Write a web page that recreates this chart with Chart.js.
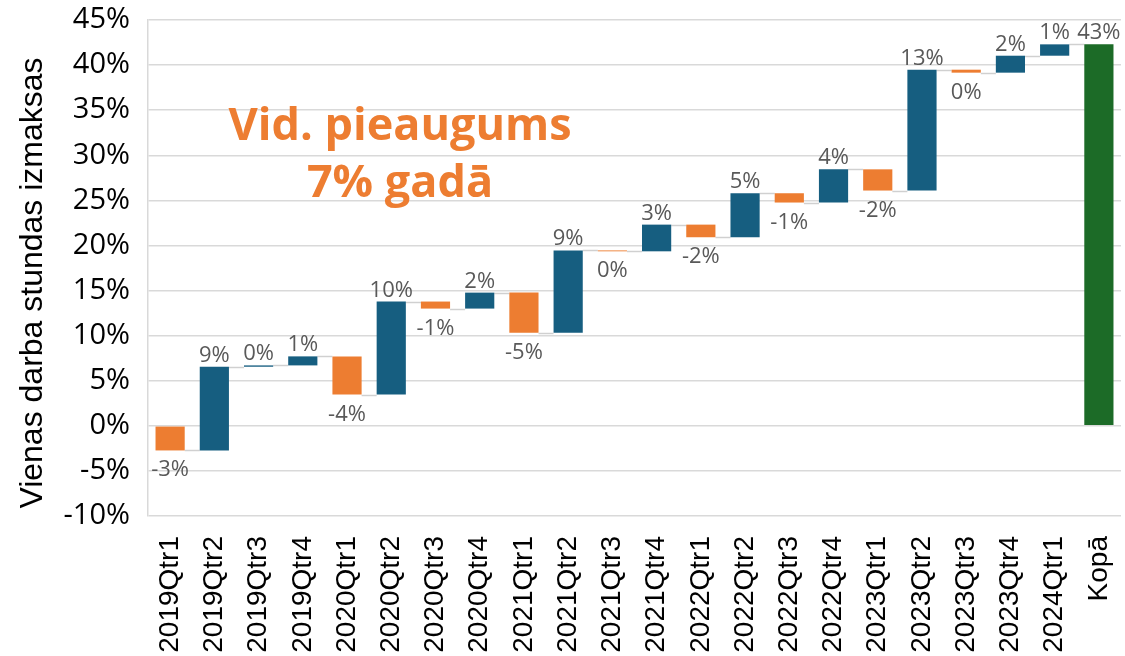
<!DOCTYPE html>
<html>
<head>
<meta charset="utf-8">
<script src="https://cdn.jsdelivr.net/npm/chart.js@4.4.1/dist/chart.umd.min.js"></script>
<style>
  html, body { margin: 0; padding: 0; background: #ffffff; }
  #wrap { width: 1125px; height: 656px; position: relative; }
</style>
</head>
<body>
<div id="wrap"><canvas id="c" width="1125" height="656"></canvas></div>
<script>
// ---- Data ----
const categories = ['2019Qtr1','2019Qtr2','2019Qtr3','2019Qtr4','2020Qtr1','2020Qtr2','2020Qtr3','2020Qtr4',
  '2021Qtr1','2021Qtr2','2021Qtr3','2021Qtr4','2022Qtr1','2022Qtr2','2022Qtr3','2022Qtr4',
  '2023Qtr1','2023Qtr2','2023Qtr3','2023Qtr4','2024Qtr1','Kopā'];
// quarterly changes of the cumulative index (percentage points)
const changes = [-2.73, 9.28, 0.15, 1.0, -4.24, 10.32, -0.78, 1.77, -4.46, 9.14, -0.1, 2.96,
  -1.4, 4.88, -1.03, 3.68, -2.35, 13.4, -0.33, 1.88, 1.26];
// data labels printed on the bars (%)
const barLabels = [-3, 9, 0, 1, -4, 10, -1, 2, -5, 9, 0, 3, -2, 5, -1, 4, -2, 13, 0, 2, 1, 43];
const yTicks = { min: -10, max: 45, step: 5 };
const annotationLines = ['Vid. pieaugums', '7% gadā'];
const yTitle = 'Vienas darba stundas izmaksas';

// ---- Build floating bars ----
const COL_UP = '#165E80', COL_DOWN = '#ED7D31', COL_TOTAL = '#1C6B27';
const ranges = [], colors = [], levels = [];
let run = 0;
changes.forEach(c => { const s = run; run = +(run + c).toFixed(4); ranges.push([s, run]); levels.push(run); colors.push(c >= 0 ? COL_UP : COL_DOWN); });
ranges.push([0, run]); levels.push(run); colors.push(COL_TOTAL);
const isUp = ranges.map((r, i) => i === ranges.length - 1 ? true : changes[i] >= 0);

const overlay = {
  id: 'overlay',
  beforeDatasetsDraw(chart) {
    const ctx = chart.ctx, meta = chart.getDatasetMeta(0), y = chart.scales.y;
    ctx.save();
    ctx.strokeStyle = '#D0D0D0'; ctx.lineWidth = 1.5;
    for (let i = 0; i < meta.data.length - 1; i++) {
      const a = meta.data[i], b = meta.data[i + 1];
      const yy = Math.round(y.getPixelForValue(levels[i])) + 0.5;
      ctx.beginPath(); ctx.moveTo(a.x + a.width / 2, yy); ctx.lineTo(b.x - b.width / 2, yy); ctx.stroke();
    }
    ctx.restore();
  },
  afterDatasetsDraw(chart) {
    const ctx = chart.ctx, meta = chart.getDatasetMeta(0), y = chart.scales.y;
    ctx.save();
    ctx.font = '22px "Open Sans"'; ctx.fillStyle = '#595959'; ctx.textAlign = 'center'; ctx.textBaseline = 'alphabetic';
    meta.data.forEach((bar, i) => {
      const r = ranges[i];
      const txt = barLabels[i] + '%';
      if (isUp[i]) {
        const top = y.getPixelForValue(Math.max(r[0], r[1]));
        ctx.fillText(txt, bar.x, top - 5);
      } else {
        const bot = y.getPixelForValue(Math.min(r[0], r[1]));
        ctx.fillText(txt, bar.x, bot + 26);
      }
    });
    // annotation
    ctx.font = 'bold 45px "Open Sans"';
    ctx.fillStyle = '#ED7D31';
    ctx.fillText(annotationLines[0], 400, 140);
    ctx.fillText(annotationLines[1], 400, 197);
    // y-axis title
    ctx.font = '32px "Liberation Sans"';
    ctx.fillStyle = '#000';
    ctx.translate(42, 283);
    ctx.rotate(-Math.PI / 2);
    ctx.fillText(yTitle, 0, 0);
    ctx.restore();
  }
};

function build() {
  new Chart(document.getElementById('c'), {
    type: 'bar',
    data: {
      labels: categories,
      datasets: [{ data: ranges, backgroundColor: colors, borderWidth: 0, barPercentage: 0.66, categoryPercentage: 1.0 }]
    },
    options: {
      responsive: false, animation: false,
      layout: { padding: { top: 20, right: 4, left: 0, bottom: 0 } },
      plugins: { legend: { display: false }, tooltip: { enabled: false } },
      scales: {
        x: {
          grid: { display: false, drawTicks: false },
          border: { display: false },
          ticks: { color: '#000', font: { family: 'Liberation Sans', size: 28 }, maxRotation: 90, minRotation: 90, padding: 20, autoSkip: false },
          afterFit(s) { s.height = 140; s.paddingLeft = 0; s.paddingRight = 0; }
        },
        y: {
          min: yTicks.min, max: yTicks.max,
          grid: { color: '#D9D9D9', lineWidth: 1.5, drawTicks: false },
          border: { display: true, color: '#D9D9D9', width: 1.5 },
          ticks: { stepSize: yTicks.step, color: '#000', font: { family: 'Open Sans', size: 29 }, padding: 18, callback: v => v + '%' },
          title: { display: false },
          afterFit(s) { s.width = 148; s.paddingTop = 0; s.paddingBottom = 0; }
        }
      }
    },
    plugins: [overlay]
  });
}

Promise.all([
  document.fonts.load('29px "Open Sans"'),
  document.fonts.load('22px "Open Sans"'),
  document.fonts.load('bold 45px "Open Sans"'),
  document.fonts.load('28px "Liberation Sans"'),
  document.fonts.load('32px "Liberation Sans"')
]).then(build, build);
</script>
</body>
</html>
